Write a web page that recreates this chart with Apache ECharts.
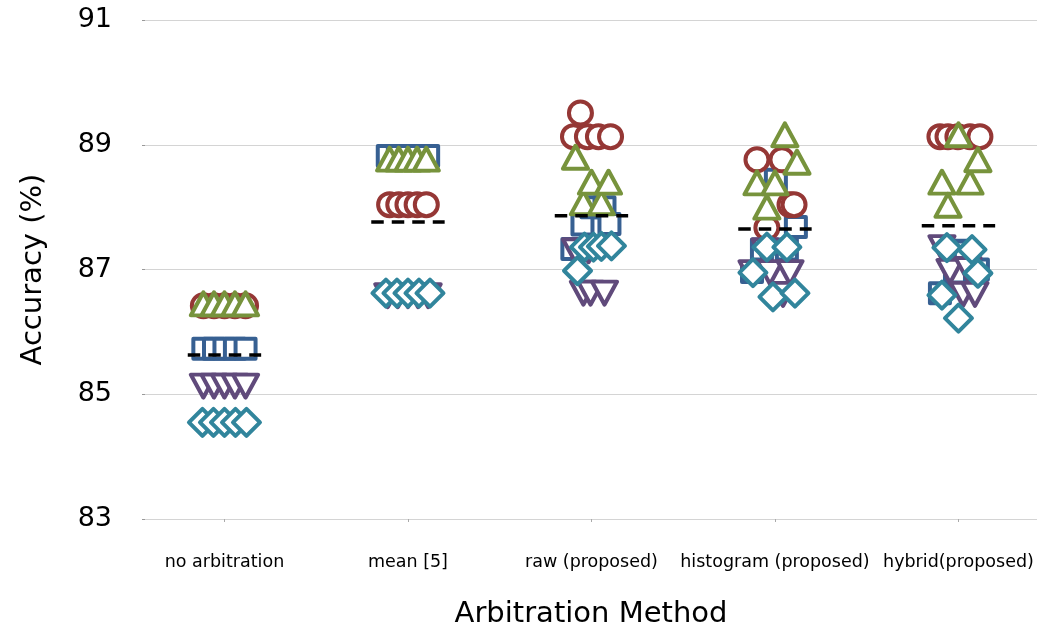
<!DOCTYPE html>
<html>
<head>
<meta charset="utf-8">
<script src="https://cdn.jsdelivr.net/npm/echarts@6/dist/echarts.min.js"></script>
<style>
html,body{margin:0;padding:0;background:#fff;}
#chart{width:1040px;height:628px;}
</style>
</head>
<body>
<div id="chart"></div>
<script>
// ---- data ----
const categories = ['no arbitration', 'mean [5]', 'raw (proposed)', 'histogram (proposed)', 'hybrid(proposed)'];
const yTicks = [83, 85, 87, 89, 91];
const seriesNames = ['circle', 'square', 'triangle', 'down triangle', 'diamond'];

// values per category (5 runs each)
const circleVals = [
  [86.42, 86.42, 86.42, 86.42, 86.42],
  [88.04, 88.04, 88.04, 88.04, 88.04],
  [89.13, 89.13, 89.13, 89.13, 89.51],
  [88.76, 87.67, 88.76, 88.04, 88.04],
  [89.13, 89.13, 89.13, 89.13, 89.13]
];
const circleOffs = [
  [-0.115, -0.057, 0, 0.057, 0.115],
  [-0.1, -0.05, 0, 0.05, 0.1],
  [-0.098, -0.022, 0.038, 0.104, -0.06],
  [-0.098, -0.044, 0.038, 0.082, 0.104],
  [-0.101, -0.057, -0.003, 0.063, 0.117]
];
const squareVals = [
  [85.73, 85.73, 85.73, 85.73, 85.73],
  [88.82, 88.82, 88.82, 88.82, 88.82],
  [87.33, 87.72, 88.0, 88.0, 87.73],
  [86.96, 87.32, 88.44, 87.32, 87.68],
  [86.62, 86.95, 87.3, 87.29, 87.0]
];
const squareOffs = [
  [-0.115, -0.057, 0, 0.057, 0.115],
  [-0.11, -0.055, 0, 0.055, 0.11],
  [-0.104, -0.049, 0, 0.071, 0.098],
  [-0.125, -0.071, 0.005, 0.065, 0.114],
  [-0.101, -0.019, 0.008, 0.035, 0.106]
];
const triangleVals = [
  [86.45, 86.45, 86.45, 86.45, 86.45],
  [88.77, 88.77, 88.77, 88.77, 88.77],
  [88.80, 88.07, 88.40, 88.07, 88.40],
  [88.39, 88.0, 88.39, 89.16, 88.72],
  [88.40, 88.03, 89.16, 88.40, 88.76]
];
const triangleOffs = [
  [-0.115, -0.057, 0, 0.057, 0.115],
  [-0.1, -0.05, 0, 0.05, 0.1],
  [-0.087, -0.044, 0, 0.054, 0.093],
  [-0.098, -0.044, 0, 0.054, 0.12],
  [-0.09, -0.057, 0, 0.063, 0.106]
];
const downVals = [
  [85.13, 85.13, 85.13, 85.13, 85.13],
  [86.58, 86.58, 86.58, 86.58, 86.58],
  [87.3, 86.62, 87.3, 86.62, 86.62],
  [86.95, 87.3, 86.95, 86.6, 86.95],
  [87.35, 86.97, 86.6, 87.0, 86.6]
];
const downOffs = [
  [-0.115, -0.057, 0, 0.057, 0.115],
  [-0.11, -0.055, 0, 0.055, 0.11],
  [-0.087, -0.044, -0.016, -0.005, 0.071],
  [-0.125, -0.054, -0.027, 0.044, 0.082],
  [-0.09, -0.046, 0.025, 0.052, 0.09]
];
const diamondVals = [
  [84.55, 84.55, 84.55, 84.55, 84.55],
  [86.62, 86.62, 86.62, 86.62, 86.62],
  [86.98, 87.36, 87.36, 87.37, 87.38],
  [86.95, 87.36, 86.56, 87.36, 86.62],
  [86.59, 87.35, 86.22, 87.32, 86.94]
];
const diamondOffs = [
  [-0.12, -0.06, 0, 0.06, 0.12],
  [-0.12, -0.06, 0, 0.06, 0.12],
  [-0.076, -0.038, 0.011, 0.054, 0.109],
  [-0.12, -0.044, -0.011, 0.065, 0.109],
  [-0.09, -0.063, 0, 0.074, 0.106]
];
// mean accuracy per category (dashed lines)
const meanVals = [85.63, 87.76, 87.86, 87.65, 87.70];

// ---- styling ----
const colors = {
  circle: '#953735',
  square: '#376092',
  triangle: '#77933C',
  down: '#604A7B',
  diamond: '#31859C'
};
const FONT = 'DejaVu Sans';

function pts(vals, offs) {
  const out = [];
  for (let c = 0; c < vals.length; c++) {
    for (let j = 0; j < vals[c].length; j++) {
      out.push([c + offs[c][j], vals[c][j]]);
    }
  }
  return out;
}
function markerSeries(name, vals, offs, symbol, size, color, rotate, z) {
  return {
    name: name,
    type: 'scatter',
    data: pts(vals, offs),
    symbol: symbol,
    symbolSize: size,
    symbolRotate: rotate || 0,
    z: z,
    itemStyle: {color: '#ffffff', borderColor: color, borderWidth: 4, borderJoin: 'round', opacity: 1},
    emphasis: {disabled: true},
    silent: true
  };
}

const series = [
  markerSeries('square', squareVals, squareOffs, 'rect', 20, colors.square, 0, 2),
  markerSeries('circle', circleVals, circleOffs, 'circle', 23, colors.circle, 0, 3),
  markerSeries('triangle', triangleVals, triangleOffs, 'triangle', [25, 23], colors.triangle, 0, 4),
  markerSeries('down triangle', downVals, downOffs, 'triangle', [25, 23], colors.down, 180, 5),
  markerSeries('diamond', diamondVals, diamondOffs, 'diamond', 27, colors.diamond, 0, 6)
];
const halfW = 0.2;
meanVals.forEach(function (m, c) {
  series.push({
    type: 'line',
    data: [[c - halfW, m], [c + halfW, m]],
    symbol: 'none',
    z: 7,
    silent: true,
    lineStyle: {color: '#000', width: 3.5, type: [12.5, 8], cap: 'butt'},
    emphasis: {disabled: true}
  });
});

const chart = echarts.init(document.getElementById('chart'), null, {renderer: 'canvas'});
chart.setOption({
  animation: false,
  backgroundColor: '#ffffff',
  grid: {left: 145, right: 3, top: 20, bottom: 109, containLabel: false, outerBoundsMode: 'none'},
  xAxis: {
    type: 'value',
    min: -0.433,
    max: 4.428,
    name: 'Arbitration Method',
    nameLocation: 'middle',
    nameGap: 81,
    nameTextStyle: {fontFamily: FONT, fontSize: 29, color: '#000'},
    axisLine: {show: false, onZero: false},
    splitLine: {show: false},
    axisTick: {show: true, customValues: [0, 1, 2, 3, 4], length: 3, lineStyle: {color: '#aaaaaa', width: 1}},
    axisLabel: {
      customValues: [0, 1, 2, 3, 4],
      formatter: function (v) { return categories[Math.round(v)]; },
      fontFamily: FONT, fontSize: 17.5, color: '#000', margin: 34
    }
  },
  yAxis: {
    type: 'value',
    min: yTicks[0],
    max: yTicks[yTicks.length - 1],
    interval: 2,
    name: 'Accuracy (%)',
    nameLocation: 'middle',
    nameGap: 97,
    nameTextStyle: {fontFamily: FONT, fontSize: 29, color: '#000'},
    axisLine: {show: false, onZero: false},
    axisTick: {show: true, length: 3, lineStyle: {color: '#999999', width: 1}},
    splitLine: {show: true, lineStyle: {color: '#d4d4d4', width: 1}},
    axisLabel: {fontFamily: FONT, fontSize: 27, color: '#000', margin: 33}
  },
  series: series
});
</script>
</body>
</html>
